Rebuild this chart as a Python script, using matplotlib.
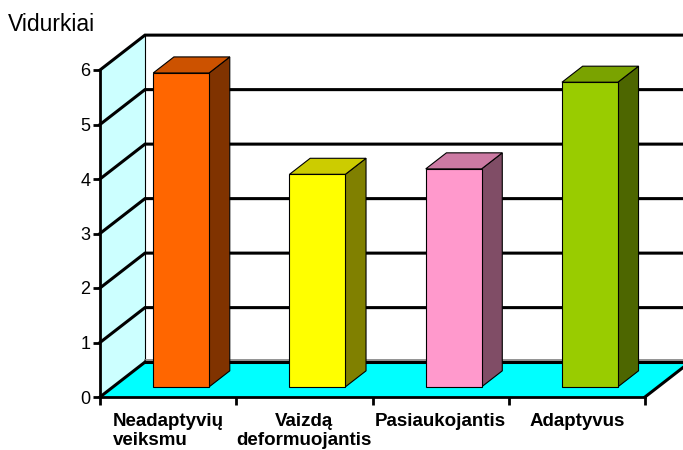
import matplotlib.pyplot as plt
from matplotlib.patches import Polygon
from matplotlib.colors import to_rgb

plt.rcParams['font.family'] = ['Liberation Sans', 'DejaVu Sans']

# Duomenys
kategorijos = ['Neadaptyvių\nveiksmu', 'Vaizdą\ndeformuojantis', 'Pasiaukojantis', 'Adaptyvus']
vidurkiai = [5.76, 3.90, 4.00, 5.59]
spalvos = ['#FF6600', '#FFFF00', '#FF99CC', '#99CC00']
y_ticks = [0, 1, 2, 3, 4, 5, 6]

# 3D "gylis" duomenu vienetais
DX = 0.33   # kategoriju vienetais
DY = 0.64   # reiksmiu vienetais
f0, f1 = 0.29, 0.75   # stulpelio priekis / galas gylyje
plotis = 0.41

def tamsiau(c, k):
    r, g, b = to_rgb(c)
    return (r * k, g * k, b * k)

fig = plt.figure(figsize=(6.83, 4.5), dpi=100)
ax = fig.add_axes([100 / 683, 53 / 450, 545 / 683, 327 / 450])
ax.set_xlim(0, 4)
ax.set_ylim(0, 6)
ax.patch.set_visible(False)
for s in ['top', 'right']:
    ax.spines[s].set_visible(False)
for s in ['left', 'bottom']:
    ax.spines[s].set_linewidth(2)
    ax.spines[s].set_zorder(6)

n = len(kategorijos)
xmax = n + DX + 0.5

# Siena kaireje
ax.add_patch(Polygon([(0, 0), (DX, DY), (DX, 6 + DY), (0, 6)], closed=True,
                     facecolor='#CCFFFF', edgecolor='none', zorder=1, clip_on=False))
ax.plot([DX, DX], [DY, 6 + DY], color='black', lw=0.8, zorder=2, clip_on=False)

# Grindys
ax.add_patch(Polygon([(0, 0), (n, 0), (n + DX, DY), (DX, DY)], closed=True,
                     facecolor='#00FFFF', edgecolor='none', zorder=1, clip_on=False))
ax.plot([DX, xmax], [DY + 0.04, DY + 0.04], color='#808080', lw=1.2, zorder=2, clip_on=False)
ax.plot([0, DX], [0, DY], color='black', lw=2.2, zorder=3, clip_on=False)
ax.plot([n, n + DX], [0, DY], color='black', lw=2.2, zorder=3, clip_on=False)

# Tinklelis
for v in y_ticks:
    if v == 0:
        ax.plot([DX, xmax], [DY, DY], color='black', lw=2.2, zorder=3, clip_on=False)
    else:
        ax.plot([0, DX, xmax], [v, v + DY, v + DY], color='black', lw=2.2,
                zorder=3, clip_on=False, solid_joinstyle='miter')

# Stulpeliai
for i, (v, c) in enumerate(zip(vidurkiai, spalvos)):
    x0 = i + 0.5 - plotis / 2 + f0 * DX
    x1 = x0 + plotis
    y0 = f0 * DY
    ddx = (f1 - f0) * DX
    ddy = (f1 - f0) * DY
    top = y0 + v
    virsus = [(x0, top), (x1, top), (x1 + ddx, top + ddy), (x0 + ddx, top + ddy)]
    sonas = [(x1, y0), (x1 + ddx, y0 + ddy), (x1 + ddx, top + ddy), (x1, top)]
    priekis = [(x0, y0), (x1, y0), (x1, top), (x0, top)]
    ax.add_patch(Polygon(sonas, closed=True, facecolor=tamsiau(c, 0.5),
                         edgecolor='black', lw=0.8, zorder=4, clip_on=False))
    ax.add_patch(Polygon(virsus, closed=True, facecolor=tamsiau(c, 0.8),
                         edgecolor='black', lw=0.8, zorder=4, clip_on=False))
    ax.add_patch(Polygon(priekis, closed=True, facecolor=c,
                         edgecolor='black', lw=0.8, zorder=5, clip_on=False))

# Asys
ax.set_yticks(y_ticks)
ax.tick_params(axis='y', direction='out', length=5, width=2, pad=2, labelsize=13)
ax.set_xticks(range(n + 1))
ax.set_xticklabels([])
ax.tick_params(axis='x', direction='out', length=6, width=2)

for i, lab in enumerate(kategorijos):
    ax.text(i + 0.5, -0.29, lab, ha='center', va='top', fontsize=13.5,
            fontweight='bold', linespacing=1.2,
            multialignment='left' if i == 0 else 'center')

fig.text(8 / 683, 1 - 31 / 450, 'Vidurkiai', fontsize=16.5, va='baseline', ha='left')

fig.savefig('out.png', dpi=100)
